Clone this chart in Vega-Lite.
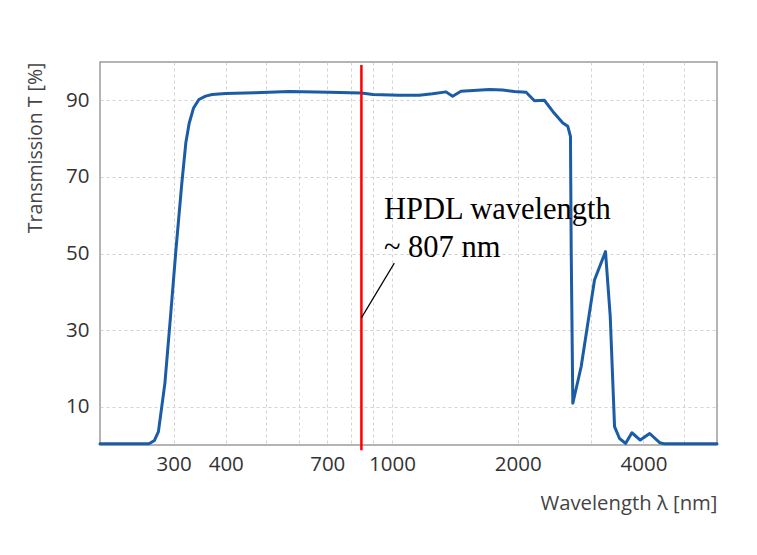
{
  "$schema": "https://vega.github.io/schema/vega-lite/v6.json",
  "autosize": "none",
  "width": 617,
  "height": 383,
  "padding": {"left": 100, "top": 62, "right": 40, "bottom": 110},
  "background": "white",
  "config": {
    "view": {"stroke": "#9c9c9c", "strokeWidth": 1.5},
    "axis": {"labelFont": "Open Sans", "titleFont": "Open Sans", "labelColor": "#333", "titleColor": "#444", "titleFontWeight": "normal"}
  },
  "datasets": {
    "curve": [
      {"wl": 200, "t": 0.3}, {"wl": 262, "t": 0.3}, {"wl": 270, "t": 1.2}, {"wl": 276, "t": 3.5},
      {"wl": 286, "t": 16.1}, {"wl": 295, "t": 33.5}, {"wl": 304, "t": 51}, {"wl": 314, "t": 68.4},
      {"wl": 321, "t": 78.9}, {"wl": 327, "t": 84}, {"wl": 335, "t": 88}, {"wl": 345, "t": 90.2},
      {"wl": 358, "t": 91.1}, {"wl": 371, "t": 91.5}, {"wl": 400, "t": 91.75}, {"wl": 470, "t": 92.0},
      {"wl": 567, "t": 92.3}, {"wl": 707, "t": 92.1}, {"wl": 845, "t": 91.9}, {"wl": 900, "t": 91.5},
      {"wl": 1041, "t": 91.3}, {"wl": 1162, "t": 91.3}, {"wl": 1251, "t": 91.7}, {"wl": 1347, "t": 92.2},
      {"wl": 1397, "t": 91.05}, {"wl": 1463, "t": 92.35}, {"wl": 1711, "t": 92.8}, {"wl": 1841, "t": 92.7},
      {"wl": 1963, "t": 92.3}, {"wl": 2095, "t": 92.1}, {"wl": 2193, "t": 89.9}, {"wl": 2317, "t": 90.0},
      {"wl": 2427, "t": 87.1}, {"wl": 2565, "t": 84.1}, {"wl": 2636, "t": 83.2}, {"wl": 2675, "t": 80.6},
      {"wl": 2686, "t": 51}, {"wl": 2710, "t": 10.9}, {"wl": 2838, "t": 20.5}, {"wl": 3054, "t": 43.1},
      {"wl": 3245, "t": 50.5}, {"wl": 3331, "t": 33.5}, {"wl": 3411, "t": 4.8}, {"wl": 3506, "t": 1.7},
      {"wl": 3624, "t": 0.4}, {"wl": 3753, "t": 3.2}, {"wl": 3930, "t": 1.3}, {"wl": 4140, "t": 3.0},
      {"wl": 4374, "t": 0.6}, {"wl": 4500, "t": 0.3}, {"wl": 6000, "t": 0.3}
    ],
    "marker": [{"wl": 845, "top": 99.2, "bottom": -1.4}],
    "leader": [{"x1": 1013, "y1": 47.5, "x2": 845, "y2": 33.2}],
    "labels": [
      {"wl": 957, "t": 58.9, "text": "HPDL wavelength"},
      {"wl": 957, "t": 49.2, "text": "~ 807 nm"}
    ]
  },
  "layer": [
    {
      "data": {"name": "curve"},
      "mark": {"type": "line", "color": "#1b5ca6", "strokeWidth": 3, "strokeJoin": "round", "strokeCap": "round"},
      "encoding": {
        "x": {
          "field": "wl", "type": "quantitative",
          "scale": {"type": "log", "domain": [200, 6000], "nice": false},
          "axis": {
            "title": "Wavelength λ [nm]",
            "titleAnchor": "end", "titleFontSize": 20.3, "titlePadding": 19,
            "values": [300, 400, 500, 600, 700, 800, 900, 1000, 2000, 3000, 4000, 5000],
            "labelExpr": "indexof([300, 400, 700, 1000, 2000, 4000], datum.value) >= 0 ? format(datum.value, 'd') : ''",
            "labelOverlap": false, "labelFlush": false, "labelFontSize": 20.5, "labelPadding": 9,
            "ticks": false, "domain": false,
            "grid": true, "gridColor": "#d2d2d2", "gridDash": [3, 3], "gridWidth": 1
          }
        },
        "y": {
          "field": "t", "type": "quantitative",
          "scale": {"domain": [0, 100], "nice": false, "zero": false},
          "axis": {
            "title": "Transmission T [%]",
            "titleAnchor": "end", "titleFontSize": 19.5, "titlePadding": 20,
            "values": [10, 30, 50, 70, 90],
            "labelFontSize": 20.5, "labelPadding": 11,
            "ticks": false, "domain": false,
            "grid": true, "gridColor": "#d2d2d2", "gridDash": [3, 3], "gridWidth": 1
          }
        }
      }
    },
    {
      "data": {"name": "marker"},
      "mark": {"type": "rule", "color": "#ff0000", "strokeWidth": 2.5},
      "encoding": {
        "x": {"field": "wl", "type": "quantitative", "scale": {"type": "log", "domain": [200, 6000], "nice": false}},
        "y": {"field": "top", "type": "quantitative", "scale": {"domain": [0, 100], "nice": false, "zero": false}},
        "y2": {"field": "bottom"}
      }
    },
    {
      "data": {"name": "leader"},
      "mark": {"type": "rule", "color": "#000000", "strokeWidth": 1.2},
      "encoding": {
        "x": {"field": "x1", "type": "quantitative", "scale": {"type": "log", "domain": [200, 6000], "nice": false}},
        "y": {"field": "y1", "type": "quantitative", "scale": {"domain": [0, 100], "nice": false, "zero": false}},
        "x2": {"field": "x2"},
        "y2": {"field": "y2"}
      }
    },
    {
      "data": {"name": "labels"},
      "mark": {"type": "text", "font": "Liberation Serif", "fontSize": 30.5, "align": "left", "baseline": "alphabetic", "color": "#000000"},
      "encoding": {
        "x": {"field": "wl", "type": "quantitative", "scale": {"type": "log", "domain": [200, 6000], "nice": false}},
        "y": {"field": "t", "type": "quantitative", "scale": {"domain": [0, 100], "nice": false, "zero": false}},
        "text": {"field": "text"}
      }
    }
  ]
}
